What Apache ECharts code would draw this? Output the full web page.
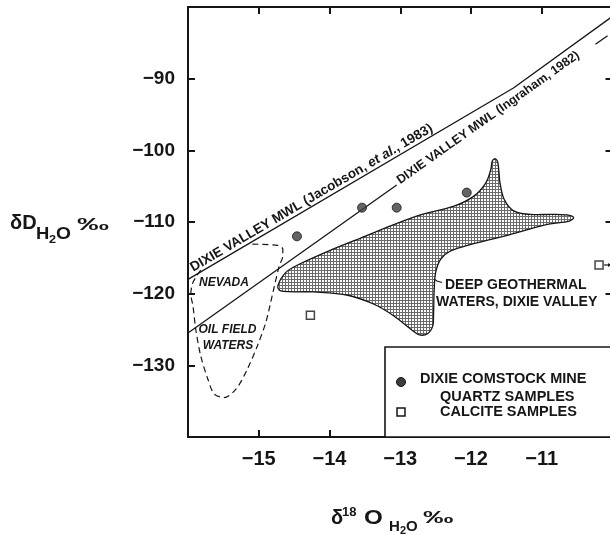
<!DOCTYPE html>
<html><head><meta charset="utf-8">
<script src="https://cdn.jsdelivr.net/npm/echarts@6.0.0/dist/echarts.min.js"></script>
<style>html,body{margin:0;padding:0;background:#fff}#c{width:610px;height:534px}</style>
</head><body><div id="c"></div>
<script>
// ---- data ----
const xTickLabels = [-15, -14, -13, -12, -11];
const yTickLabels = [-90, -100, -110, -120, -130];
const quartzSamples = [[-14.46, -112.0], [-13.54, -108.0], [-13.05, -108.0], [-12.06, -105.9]];
const calciteSamples = [[-14.27, -123.0], [-10.19, -116.0]];
const calciteOffscale = [[-10.19, -116.0]];
const jacobsonMWL = [[-16, -118.0], [-11.4, -91.3], [-10, -81.3]];
const ingrahamMWLa = [[-16, -125.5], [-13.05, -104.85]];
const ingrahamMWLb = [[-10.24, -85.2], [-10.07, -84.0]];
const geothermalField = [
  [-14.73,-118.93],[-14.62,-117.06],[-14.43,-115.9],[-13.96,-113.82],[-13.49,-111.96],
  [-13.02,-110.1],[-12.69,-108.94],[-12.24,-107.79],[-11.96,-106.39],[-11.79,-104.53],
  [-11.72,-102.67],[-11.70,-101.52],[-11.66,-101.18],[-11.62,-101.74],[-11.59,-104.53],
  [-11.53,-106.85],[-11.39,-108.48],[-11.16,-108.94],[-10.83,-108.94],[-10.61,-109.08],
  [-10.55,-109.4],[-10.61,-109.87],[-10.92,-110.33],[-11.53,-111.96],[-12.0,-113.12],
  [-12.29,-114.05],[-12.43,-115.21],[-12.50,-117.06],[-12.52,-119.39],[-12.53,-123.11],
  [-12.54,-124.5],[-12.61,-125.56],[-12.73,-125.75],[-12.85,-124.96],[-13.09,-123.11],
  [-13.37,-121.48],[-13.74,-120.22],[-14.22,-119.76],[-14.69,-119.62]
];
const nevadaOilField = [
  [-15.09,-113.1],[-14.73,-113.26],[-14.66,-113.8],[-14.66,-114.75],[-14.71,-116.1],
  [-14.80,-119.85],[-14.90,-124.0],[-15.02,-127.3],[-15.16,-130.5],[-15.32,-133.3],
  [-15.49,-134.5],[-15.63,-134.0],[-15.72,-131.9],[-15.82,-128.7],[-15.89,-125.0],
  [-15.93,-121.7],[-15.96,-120.1],[-15.94,-118.7],[-15.89,-117.7],[-15.82,-116.7]
];

const FONT = '"Liberation Sans", Arial, Helvetica, sans-serif';
const INK = '#161616';
const fmtMinus = v => String(v).replace('-', '\u2212');

function makePattern() {
  const c = document.createElement('canvas');
  c.width = 3; c.height = 3;
  const g = c.getContext('2d');
  g.fillStyle = '#ffffff'; g.fillRect(0, 0, 3, 3);
  g.fillStyle = '#6a6a6a'; g.fillRect(0, 0, 3, 1); g.fillRect(0, 0, 1, 3);
  return c;
}
const pattern = { image: makePattern(), repeat: 'repeat' };

const chart = echarts.init(document.getElementById('c'), null, { renderer: 'canvas' });

const axisCommon = {
  type: 'value',
  axisLine: { show: true, lineStyle: { color: INK, width: 2 } },
  axisTick: { show: true, inside: true, length: 7, lineStyle: { color: INK, width: 2 } },
  splitLine: { show: false }
};

const option = {
  animation: false,
  backgroundColor: '#fff',
  grid: { left: 188, top: 7, width: 424.5, height: 430, containLabel: false, outerBoundsMode: 'none' },
  xAxis: [
    Object.assign({}, axisCommon, {
      min: -16, max: -10, interval: 1, position: 'bottom',
      axisLabel: {
        margin: 12, fontSize: 20, fontWeight: 'bold', color: INK, fontFamily: FONT,
        formatter: v => xTickLabels.includes(v) ? fmtMinus(v) : ''
      }
    }),
    Object.assign({}, axisCommon, {
      min: -16, max: -10, interval: 1, position: 'top', axisLabel: { show: false }
    })
  ],
  yAxis: [
    Object.assign({}, axisCommon, {
      min: -140, max: -80, interval: 10, position: 'left',
      axisLabel: {
        margin: 13, fontSize: 19, fontWeight: 'bold', color: INK, fontFamily: FONT,
        formatter: v => yTickLabels.includes(v) ? fmtMinus(v) : ''
      }
    }),
    Object.assign({}, axisCommon, {
      min: -140, max: -80, interval: 10, position: 'right', axisLabel: { show: false }
    })
  ],
  series: [
    {
      name: 'Deep geothermal waters', type: 'custom', data: geothermalField, z: 2,
      renderItem: (params, api) => {
        if (params.dataIndex !== 0) return null;
        const pts = geothermalField.map(p => api.coord(p));
        return {
          type: 'polygon',
          shape: { points: pts, smooth: 0.35 },
          style: { fill: pattern, stroke: INK, lineWidth: 1.3 }
        };
      }
    },
    {
      name: 'Nevada oil field waters', type: 'line', data: nevadaOilField, smooth: 0.3,
      symbol: 'none', z: 3,
      lineStyle: { color: INK, width: 1.2, type: [6, 4] }
    },
    {
      name: 'Jacobson MWL', type: 'line', data: jacobsonMWL, symbol: 'none', z: 3,
      lineStyle: { color: INK, width: 1.3 }
    },
    {
      name: 'Ingraham MWL', type: 'line', data: ingrahamMWLa, symbol: 'none', z: 3,
      lineStyle: { color: INK, width: 1.3 }
    },
    {
      name: 'Ingraham MWL b', type: 'line', data: ingrahamMWLb, symbol: 'none', z: 3,
      lineStyle: { color: INK, width: 1.3 }
    },
    {
      name: 'Quartz', type: 'scatter', data: quartzSamples, symbol: 'circle', symbolSize: 9, z: 5,
      itemStyle: { color: '#3d3d3d', borderColor: '#151515', borderWidth: 1 }
    },
    {
      name: 'Calcite', type: 'scatter', data: calciteSamples, symbol: 'rect', symbolSize: 8, z: 5,
      itemStyle: { color: '#fff', borderColor: INK, borderWidth: 1.5 }
    },
    {
      name: 'Off-scale arrow', type: 'custom', data: calciteOffscale, z: 5,
      renderItem: (params, api) => {
        const p = api.coord([api.value(0), api.value(1)]);
        return {
          type: 'group',
          children: [
            { type: 'line', shape: { x1: p[0] + 5, y1: p[1], x2: p[0] + 10, y2: p[1] },
              style: { stroke: INK, lineWidth: 1.2 } },
            { type: 'polygon', shape: { points: [[p[0] + 12, p[1]], [p[0] + 9, p[1] - 2], [p[0] + 9, p[1] + 2]] },
              style: { fill: INK } }
          ]
        };
      }
    }
  ]
};
chart.setOption(option);

// ---- annotations ----
function toPx(p) { return chart.convertToPixel({ gridIndex: 0 }, p); }
function alongLine(seg, xData, offset) {
  const [a, b] = seg;
  const yData = a[1] + (b[1] - a[1]) * (xData - a[0]) / (b[0] - a[0]);
  const p = toPx([xData, yData]);
  const pa = toPx(a), pb = toPx(b);
  const ang = Math.atan2(pa[1] - pb[1], pb[0] - pa[0]);
  return { x: p[0] - offset * Math.sin(ang), y: p[1] - offset * Math.cos(ang), rotation: ang };
}
const jac = alongLine([jacobsonMWL[0], jacobsonMWL[1]], -14.2, 7.5);
const ing = alongLine(ingrahamMWLa, -11.74, 2);

const txt = (x, y, text, size, extra, el) => Object.assign({
  type: 'text', x, y, z: 20,
  style: Object.assign({ text, fill: INK, font: `bold ${size}px ${FONT}`, align: 'left', verticalAlign: 'middle' }, extra || {})
}, el || {});

const richN = { fontSize: 13.5, fontWeight: 'bold', fontFamily: FONT, fill: INK };
const richI = { fontSize: 13.5, fontWeight: 'bold', fontStyle: 'italic', fontFamily: FONT, fill: INK };

const gr = [
  { type: 'text', x: jac.x, y: jac.y, rotation: jac.rotation, z: 20,
    style: { text: '{n|DIXIE VALLEY MWL (Jacobson, }{i|et al.}{n|, 1983)}', rich: { n: richN, i: richI },
      align: 'center', verticalAlign: 'middle' } },
  { type: 'text', x: ing.x, y: ing.y, rotation: ing.rotation, z: 20,
    style: { text: 'DIXIE VALLEY MWL (Ingraham, 1982)', fill: INK, font: `bold 12.5px ${FONT}`,
      align: 'center', verticalAlign: 'middle' } },
  txt(224, 282.5, 'NEVADA', 12, { font: `italic bold 12px ${FONT}`, align: 'center' }),
  txt(227.5, 330, 'OIL FIELD', 12, { font: `italic bold 12px ${FONT}`, align: 'center' }),
  txt(228, 346, 'WATERS', 12, { font: `italic bold 12px ${FONT}`, align: 'center' }),
  txt(445, 285, 'DEEP GEOTHERMAL', 14),
  txt(436, 302, 'WATERS, DIXIE VALLEY', 14),
  { type: 'polyline', z: 20, shape: { points: [[434, 279], [437, 281], [442, 282.5]] },
    style: { stroke: INK, lineWidth: 1.1, fill: null } },
  // legend
  { type: 'rect', z: 1, shape: { x: 385, y: 347, width: 228, height: 90 },
    style: { fill: '#fff', stroke: INK, lineWidth: 1.6 } },
  { type: 'circle', z: 20, shape: { cx: 401, cy: 382, r: 4.5 }, style: { fill: '#3d3d3d', stroke: '#151515', lineWidth: 1 } },
  { type: 'rect', z: 20, shape: { x: 397, y: 408, width: 8, height: 8 }, style: { fill: '#fff', stroke: INK, lineWidth: 1.5 } },
  txt(420, 379, 'DIXIE COMSTOCK MINE', 14.5),
  txt(440, 397, 'QUARTZ SAMPLES', 14.5),
  txt(440, 412, 'CALCITE SAMPLES', 14.5),
  // y-axis title
  txt(10, 223, '\u03B4D', 20),
  txt(36, 235, 'H', 16, null, { scaleX: 1.15 }),
  txt(49, 240, '2', 11, null, { scaleX: 1.15 }),
  txt(56, 235, 'O', 16, null, { scaleX: 1.2 }),
  txt(77, 225.5, '\u2030', 16, null, { scaleX: 2.0 }),
  // x-axis title
  txt(331, 518, '\u03B4', 20),
  txt(342, 512, '18', 13),
  txt(364, 518, 'O', 21, null, { scaleX: 1.15 }),
  txt(389, 527, 'H', 15),
  txt(400, 531, '2', 11),
  txt(406, 527, 'O', 15),
  txt(423, 518.5, '\u2030', 16, null, { scaleX: 1.9 })
];
chart.setOption({ graphic: gr });
</script>
</body></html>
